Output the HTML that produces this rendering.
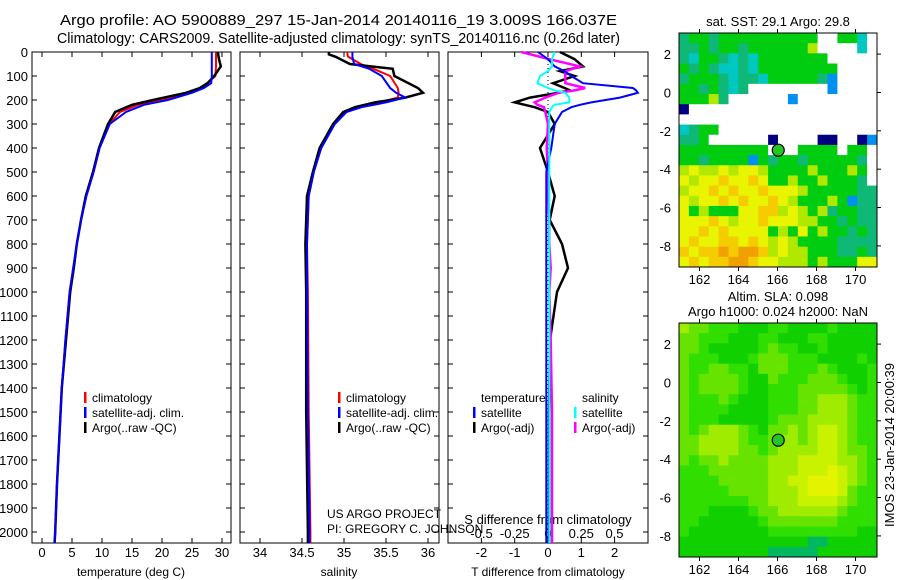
<!DOCTYPE html>
<html><head><meta charset="utf-8"><style>
html,body{margin:0;padding:0;background:#fff}
svg{display:block;font-family:"Liberation Sans",sans-serif}
</style></head><body>
<svg id="c" width="900" height="580" viewBox="0 0 900 580">
<text x="60" y="25" font-size="14.5" textLength="557" lengthAdjust="spacingAndGlyphs">Argo profile: AO 5900889_297 15-Jan-2014 20140116_19 3.009S 166.037E</text>
<text x="57" y="43" font-size="14.5" textLength="563" lengthAdjust="spacingAndGlyphs">Climatology: CARS2009. Satellite-adjusted climatology: synTS_20140116.nc (0.26d later)</text>
</svg>
<script>
// ---- data ----
const depthT=[0,30,60,100,130,150,170,200,220,250,300,400,500,600,700,800,900,1000,1200,1400,1600,1800,2000,2046];
const tempArgo=[29.3,29.5,29.8,28.7,27.6,26.3,24,18.5,15,12.2,11,9.5,8.5,7.3,6.5,5.8,5.3,4.7,4,3.3,2.9,2.5,2.2,2.1];
const tempClim=[29.0,29.0,29.0,28.9,27.5,26.5,24.5,20,16,13,11.2,9.6,8.6,7.4,6.5,5.8,5.2,4.6,3.9,3.3,2.9,2.5,2.2,2.1];
const tempSat=[28.3,28.3,28.3,28.3,28.2,27,25,21,17,14,11.3,9.6,8.6,7.4,6.5,5.8,5.2,4.6,3.9,3.3,2.9,2.5,2.2,2.1];
const depthS=[0,10,20,50,70,100,150,170,190,210,230,250,300,400,500,600,800,1000,1500,2000,2046];
const salArgo=[34.82,34.82,34.9,35.07,35.58,35.6,35.88,35.94,35.73,35.37,35.13,34.99,34.87,34.71,34.63,34.56,34.54,34.55,34.55,34.57,34.57];
const salClim=[35.04,35.04,35.05,35.2,35.35,35.55,35.64,35.65,35.64,35.42,35.19,35.02,34.87,34.72,34.64,34.58,34.56,34.57,34.58,34.6,34.6];
const salSat=[35.1,35.1,35.1,35.12,35.3,35.45,35.55,35.62,35.73,35.5,35.21,35.03,34.89,34.73,34.64,34.58,34.56,34.56,34.57,34.59,34.59];
const depthD=[0,30,60,80,100,130,150,160,170,190,210,220,230,250,300,400,500,600,700,800,900,1000,1200,1500,2000,2046];
const dTsat=[-0.3,0,0.2,0.5,0.7,1.05,2.55,2.65,2.7,2.16,1.3,0.96,0.7,0.42,0.2,0.1,-0.05,-0.05,-0.05,-0.05,-0.05,-0.05,-0.05,-0.05,-0.05,-0.05];
const dTargo=[0.36,0.8,1.05,0.36,0.8,0.15,0.5,0.66,0.3,-0.54,-1.0,-0.7,-0.4,0,0.2,-0.24,0,0.2,0.05,0.42,0.6,0.27,0.06,0.03,0.03,0.03];
const dSsat=[0.05,0.03,0.03,0,-0.06,-0.08,0,0.05,0.13,0.16,0.16,0.05,0.03,0.01,0.01,0.01,0.01,0.01,0.01,0.01,0.01,0.01,0.01,0.01,0.01,0.01];
const dSargo=[-0.2,0.01,0.24,0.13,0.13,0.13,0.28,0.2,0.08,-0.02,-0.1,-0.08,-0.03,-0.02,0,-0.01,0,0,0.01,0.01,0.02,0.01,0.02,0.03,0.03,0.03];
const depthTicks=[0,100,200,300,400,500,600,700,800,900,1000,1100,1200,1300,1400,1500,1600,1700,1800,1900,2000];
const tTicks=[0,5,10,15,20,25,30];
const sTicks=[34,34.5,35,35.5,36];
const sTickLbl=["34","34.5","35","35.5","36"];
const dtTicks=[-2,-1,0,1,2];
const dsTicks=[-0.5,-0.25,0,0.25,0.5];
const lonTicks=[162,164,166,168,170];
const latTicks=[2,0,-2,-4,-6,-8];
const argoLon=166.037, argoLat=-3.009;
const sstRows=["tggtggggggggggwwggcw","ttgtggtgggggglwwwwcw","tcggtctcgggggggwwwww","gtgtcctcggggggggwwww","tgggtcttcgggggtbwwww","ggtgtctwwwwwwwwbwwww","gggltwwwwwwbwwwwwwww","nwwwwwwwwwwwwwwwwwww","wwwwwwwwwwwwwwwwwwww","ctggwwwwwwwwwwwwwwww","ttgwwwwwwnwwwwnnwwnb","gggggggggwwwggggwggw","ggtggggbgtggtgggggtw","lyllylyylgggglggglgw","ylyyoyyoygglgglgggtw","lyyoyoyyoyyylgggggtt","ylyyoyoyyoylggglgbtt","yglgggyyoolylgltggtt","yyyoylyyoyyyllggtgtt","yyoyoyyyyglgyglggtgt","yoyyooyoylylggggtttt","oyooOoOOolyllgggttgt","yoyooOOoyylllglgggyy"];
const slaRows=["lLLgggGGGggGGGGgGGGG","LLgggGGGggGGGggGGGGG","LLgGGGGGgLggGGgGGGGG","LgggGGGgLLLgggGGGGgG","LggLLggGLLLgggLgGGGg","LgLLLLgGGLgggLLLgGGg","LgLLLLgGGgggLLLLLgGg","LgggLgGGGgggLLlllLgg","LggggGGGGgggLLlllLgg","LgggGGGGGgLLLllllLgg","LgLlllLgGLLlLlYYlLgg","LLllllLggLllLlYYlLgg","LLllllLLgLllllYYlLLg","LgLLlLLLLlllYYYYllLg","gggLLLLLLlllYYYyYlLg","ggggLLLLLllYYyyyYlLg","gggggLLLLlllYyyyYLgg","gggggggLLlllYYYYlLgg","gggGGGGgLLllllllLggg","ggGGGGGGgLLLLLLLgggg","gGGGGGGGGgggggggggGG","GGGGGGGGGGGGGTTGGGGG","GGGGGGGGGTTTTTGGGGGG"];
const sstCol={w:"#ffffff",g:"#00cc10",t:"#10b878",c:"#00c8c0",y:"#e8f400",o:"#f4cc00",O:"#f0a000",l:"#b0e800",b:"#0090f0",n:"#000080"};
const slaCol={G:"#10d000",g:"#30de00",L:"#66e400",l:"#a0ec00",Y:"#c8f200",y:"#e4f400",T:"#00b860"};

const NS="http://www.w3.org/2000/svg";
const svg=document.getElementById('c');
function el(t,a,p){const e=document.createElementNS(NS,t);for(const k in a)e.setAttribute(k,a[k]);(p||svg).appendChild(e);return e;}
const Y0=52,PXD=0.24,YB=543;
const yD=d=>Y0+d*PXD;
const xT=v=>42+v*6;
const xS=v=>260+(v-34)*84;
const xDT=v=>548+v*33.3;
const xDS=v=>548+v*133;

function panel(x0,x1,name){
  const g=el('g',{});
  
  
  el('rect',{x:x0,y:Y0,width:x1-x0,height:YB-Y0,fill:'none',stroke:'#000','stroke-width':1},g);
  depthTicks.forEach(d=>{
    el('line',{x1:x0,x2:x0+5,y1:yD(d),y2:yD(d),stroke:'#000'},g);
    el('line',{x1:x1-5,x2:x1,y1:yD(d),y2:yD(d),stroke:'#000'},g);
  });
  return g;
}
function line(xs,ds,xf,color,w,g,name,dash){
  const p=el('polyline',{points:xs.map((v,i)=>xf(v).toFixed(1)+','+yD(ds[i]).toFixed(1)).join(' '),fill:'none',stroke:color,'stroke-width':w},g);
  if(dash)p.setAttribute('stroke-dasharray',dash);
  
  
}
function txt(x,y,s,anchor,g,name,size){
  const t=el('text',{x:x,y:y,'font-size':size||12,'text-anchor':anchor||'start'},g);
  t.textContent=s;
  
  
  return t;
}
function xticks(g,vals,xf,lbls,y,top,bot){
  vals.forEach((v,i)=>{
    el('line',{x1:xf(v),x2:xf(v),y1:top,y2:top+5,stroke:'#000'},g);
    el('line',{x1:xf(v),x2:xf(v),y1:bot-5,y2:bot,stroke:'#000'},g);
    txt(xf(v),y,lbls?lbls[i]:String(v),'middle',g,'x-tick-label',13);
  });
}
function legend(g,x,y,items){
  items.forEach((it,i)=>{
    el('rect',{x:x,y:y+i*15-10,width:2.5,height:11,fill:it[0]},g);
    txt(x+8,y+i*15,it[1],'start',g,'legend-entry');
  });
}
const gy=el('g',{});


depthTicks.forEach(d=>txt(28,yD(d)+5,String(d),'end',gy,'y-tick-label',13));

const p1=panel(32,231,'temperature-panel');
xticks(p1,tTicks,xT,null,557,Y0,YB);
txt(131,576,'temperature (deg C)','middle',p1,'x-axis-title');
line(tempClim,depthT,xT,'#ff0000',2,p1,'temp-climatology');
line(tempArgo,depthT,xT,'#000000',2.5,p1,'temp-argo');
line(tempSat,depthT,xT,'#0000ff',2,p1,'temp-satellite-adj');
legend(p1,84,402,[['#ff0000','climatology'],['#0000ff','satellite-adj. clim.'],['#000000','Argo(..raw -QC)']]);

const p2=panel(240,439,'salinity-panel');
xticks(p2,sTicks,xS,sTickLbl,557,Y0,YB);
txt(339,576,'salinity','middle',p2,'x-axis-title');
line(salClim,depthS,xS,'#ff0000',2,p2,'sal-climatology');
line(salArgo,depthS,xS,'#000000',2.5,p2,'sal-argo');
line(salSat,depthS,xS,'#0000ff',2,p2,'sal-satellite-adj');
legend(p2,338,402,[['#ff0000','climatology'],['#0000ff','satellite-adj. clim.'],['#000000','Argo(..raw -QC)']]);
txt(327,518,'US ARGO PROJECT','start',p2,'project-credit');
txt(327,533,'PI: GREGORY C. JOHNSON','start',p2,'pi-credit');

const p3=panel(448,648,'difference-panel');
el('line',{x1:548,x2:548,y1:Y0,y2:YB,stroke:'#000','stroke-dasharray':'1 3'},p3);
xticks(p3,dtTicks,xDT,null,557,Y0,YB);
dsTicks.forEach(v=>txt(xDS(v),538,String(v),'middle',p3,'s-diff-tick-label',13));
txt(548,524,'S difference from climatology','middle',p3,'s-axis-title',13);
txt(548,576,'T difference from climatology','middle',p3,'x-axis-title');
line(dTargo,depthD,xDT,'#000000',2.5,p3,'tdiff-argo');
line(dSargo,depthD,xDS,'#ff00ff',2.5,p3,'sdiff-argo');
line(dTsat,depthD,xDT,'#0000ff',2,p3,'tdiff-satellite');
line(dSsat,depthD,xDS,'#00ffff',2,p3,'sdiff-satellite');
txt(481,402,'temperature','start',p3,'legend-header-temperature');
legend(p3,473,417,[['#0000ff','satellite'],['#000000','Argo(-adj)']]);
txt(582,402,'salinity','start',p3,'legend-header-salinity');
legend(p3,574,417,[['#00ffff','satellite'],['#ff00ff','Argo(-adj)']]);

function map(y0,y1,rows,cols,name){
  const g=el('g',{});
  
  
  const x0=679,x1=877;
  const lon0=160.95,lon1=171.1,lat0=3.1,lat1=-9.1;
  const xL=v=>x0+(v-lon0)/(lon1-lon0)*(x1-x0);
  const yL=v=>y0+(lat0-v)/(lat0-lat1)*(y1-y0);
  const nr=rows.length,nc=rows[0].length,cw=(x1-x0)/nc,ch=(y1-y0)/nr;
  rows.forEach((r,i)=>{for(let j=0;j<nc;j++){
    const c=el('rect',{x:(x0+j*cw).toFixed(2),y:(y0+i*ch).toFixed(2),width:(cw+0.4).toFixed(2),height:(ch+0.4).toFixed(2),fill:cols[r[j]]},g);
    
  }});
  el('rect',{x:x0,y:y0,width:x1-x0,height:y1-y0,fill:'none',stroke:'#000'},g);
  lonTicks.forEach(v=>{
    el('line',{x1:xL(v),x2:xL(v),y1:y0-4,y2:y0,stroke:'#000'},g);
    el('line',{x1:xL(v),x2:xL(v),y1:y1,y2:y1+4,stroke:'#000'},g);
    txt(xL(v),y1+17,String(v),'middle',g,'lon-tick-label',13);
  });
  latTicks.forEach(v=>{
    el('line',{x1:x1,x2:x1+4,y1:yL(v),y2:yL(v),stroke:'#000'},g);
    txt(x0-8,yL(v)+5,String(v),'end',g,'lat-tick-label',13);
  });
  const m=el('circle',{cx:xL(argoLon),cy:yL(argoLat),r:6,fill:'#20c820',stroke:'#000','stroke-width':1.2},g);
  
  
}
map(33,267,sstRows,sstCol,'sst-map');
txt(778,26,'sat. SST: 29.1 Argo: 29.8','middle',svg,'sst-map-title',13);
map(323,557,slaRows,slaCol,'sla-map');
txt(778,301,'Altim. SLA: 0.098','middle',svg,'sla-map-title',13);
txt(778,316,'Argo h1000: 0.024 h2000: NaN','middle',svg,'sla-map-subtitle',13);
const r=txt(0,0,'IMOS 23-Jan-2014 20:00:39','middle',svg,'imos-timestamp',13);
r.setAttribute('transform','translate(894,445) rotate(-90)');
</script>
</body></html>
